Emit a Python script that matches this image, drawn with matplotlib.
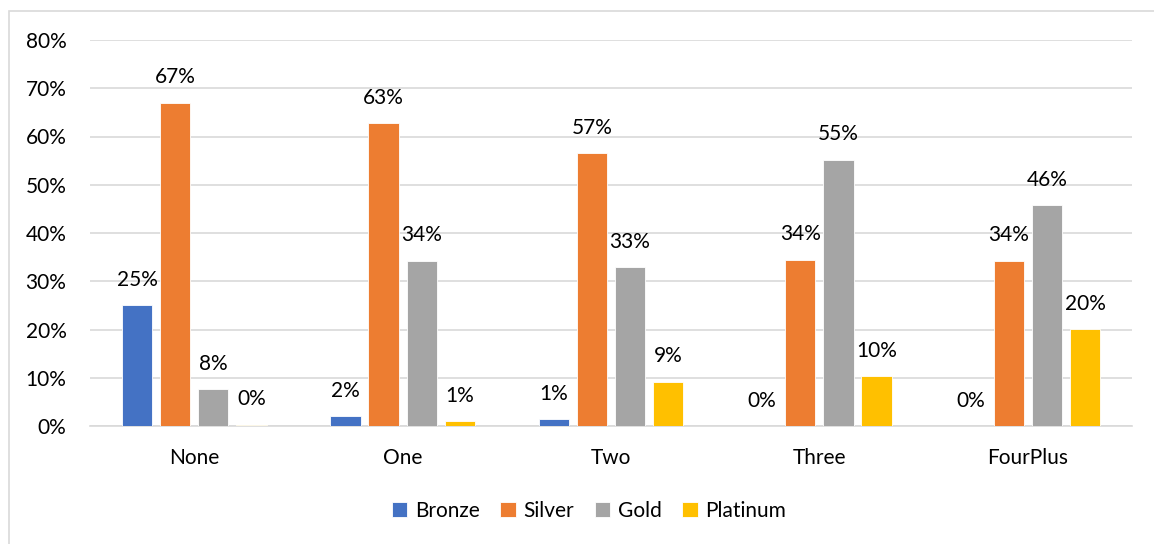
import matplotlib.pyplot as plt
import numpy as np
from matplotlib.patches import Rectangle

plt.rcParams['font.family'] = ['Lato', 'DejaVu Sans']

categories = ['None', 'One', 'Two', 'Three', 'FourPlus']
series = ['Bronze', 'Silver', 'Gold', 'Platinum']
bronze = [0.250, 0.021, 0.014, 0.0, 0.0]
silver = [0.670, 0.628, 0.566, 0.345, 0.343]
gold = [0.077, 0.343, 0.329, 0.552, 0.457]
platinum = [0.003, 0.010, 0.092, 0.104, 0.201]
colors = ['#4472C4', '#ED7D31', '#A5A5A5', '#FFC000']
yticks = [0, 0.1, 0.2, 0.3, 0.4, 0.5, 0.6, 0.7, 0.8]

fs = 15

fig = plt.figure(figsize=(11.54, 5.44), dpi=100)
# outer chart frame (only top/left edges fall inside the canvas)
fig.patches.append(Rectangle((9 / 1154, -0.1), 1.2, (544 - 11) / 544 + 0.1,
                             transform=fig.transFigure, fill=False,
                             edgecolor='#D9D9D9', lw=1.2))
ax = fig.add_axes([90 / 1154, (544 - 426) / 544, (1132 - 90) / 1154, (426 - 40) / 544])

x = np.arange(len(categories))
width = 0.145
step = 0.183
for i, (name, vals) in enumerate(zip(series, [bronze, silver, gold, platinum])):
    pos = x + (i - 1.5) * step
    ax.bar(pos, vals, width, color=colors[i], label=name,
           edgecolor='white', linewidth=0.6, zorder=3)
    for px, v in zip(pos, vals):
        ax.annotate(f'{v:.0%}', (px, v), xytext=(0, 11), textcoords='offset points',
                    ha='center', va='bottom', fontsize=fs, color='#000000', zorder=4)

ax.set_xlim(-0.5, len(categories) - 0.5)
ax.set_ylim(0, 0.8)
ax.set_yticks(yticks)
ax.set_yticklabels([f'{t:.0%}' for t in yticks], fontsize=fs)
ax.set_xticks(x)
ax.set_xticklabels(categories, fontsize=fs)
ax.tick_params(length=0)
ax.tick_params(axis='y', pad=17)
ax.tick_params(axis='x', pad=16)
ax.grid(axis='y', color='#D9D9D9', lw=1.2, zorder=0)
for side in ['top', 'right', 'left']:
    ax.spines[side].set_visible(False)
ax.spines['bottom'].set_color('#D9D9D9')
ax.spines['bottom'].set_linewidth(1.2)

fig.legend(loc='center', bbox_to_anchor=(589 / 1154, (544 - 511) / 544),
           ncol=4, frameon=False, fontsize=fs, handlelength=0.75,
           handleheight=0.75, columnspacing=1.0, handletextpad=0.35)

fig.savefig('out.png', dpi=100)
